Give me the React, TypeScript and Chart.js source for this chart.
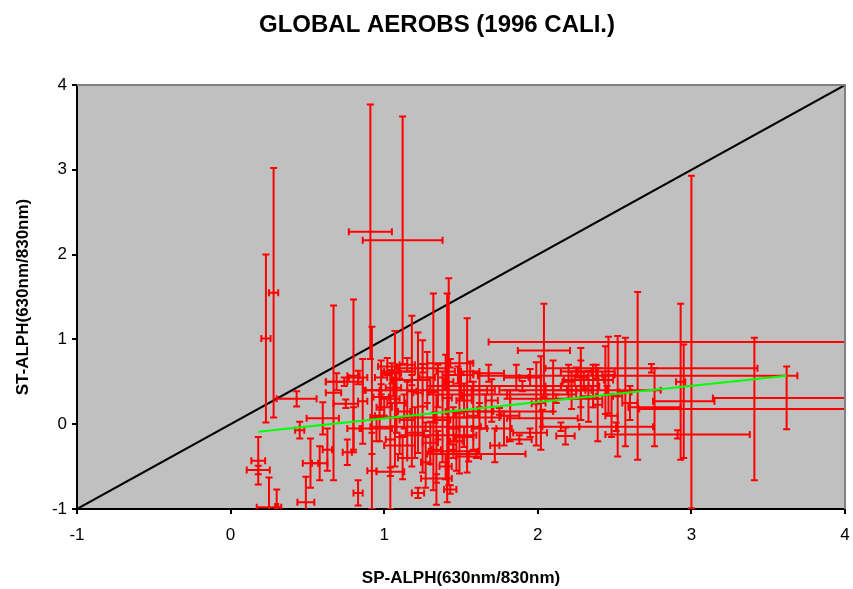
import { useEffect, useRef } from "react";
import { Chart, registerables } from "chart.js";

Chart.register(...registerables);

const TITLE = "GLOBAL AEROBS (1996 CALI.)";
const X_TITLE = "SP-ALPH(630nm/830nm)";
const Y_TITLE = "ST-ALPH(630nm/830nm)";
const AXIS_MIN = -1;
const AXIS_MAX = 4;

// SP-ALPH (x), ST-ALPH (y) and their error bars
const spAlph = [
  0.23, 0.28, 0.43, 0.45, 0.18, 0.18, 0.25, 0.30, 0.49, 0.52,
  0.58, 0.60, 0.63, 0.67, 0.69, 0.80, 0.76, 0.83, 0.75, 0.91,
  1.12, 0.92, 0.92, 0.86, 0.74, 0.83, 0.80, 1.04, 1.04, 1.18,
  1.22, 1.25, 1.32, 1.41, 1.42, 1.54, 1.49, 1.34, 1.43, 1.18,
  1.34, 1.43, 1.22, 1.00, 1.06, 1.10, 1.25, 1.33, 1.30, 1.27,
  1.35, 1.10, 1.45, 1.55, 1.47, 1.58, 1.62, 1.15, 1.08, 0.98,
  1.02, 1.28, 1.38, 1.20, 1.50, 1.40, 0.95, 0.97, 1.12, 1.27,
  1.40, 1.52, 1.07, 2.65, 3.00, 2.04, 2.02, 2.03, 1.99, 2.39,
  1.60, 1.95, 2.15, 2.28, 2.74, 2.57, 2.52, 2.76, 2.93, 2.95,
  2.91, 2.51, 3.41, 3.62, 2.22, 2.28, 2.36, 2.44, 2.46, 2.25,
  2.30, 1.80, 1.90, 1.75, 1.70, 1.78, 1.82, 1.86, 1.68, 2.10,
  2.12, 2.60, 2.48, 1.72, 1.88, 2.18, 1.05, 1.15, 1.48, 1.56,
  1.35, 1.52, 1.62, 1.13, 0.98, 1.30, 1.45, 2.05, 2.38, 2.20,
  2.33, 2.45, 1.95, 1.66,
];
const stAlph = [
  1.01, 1.55, 0.30, -0.07, -0.54, -0.43, -0.98, -0.97, -0.92, -0.46,
  -0.46, 0.07, -0.30, 0.37, 0.50, 0.57, -0.33, -0.81, 0.24, 2.27,
  2.17, 0.40, -0.55, 0.27, 0.50, 0.55, -0.05, -0.18, -0.56, 0.39,
  0.37, 0.21, 0.38, 0.31, 0.50, 0.34, 0.13, -0.30, 0.72, 0.52,
  -0.64, -0.77, -0.81, 0.20, 0.43, 0.62, 0.66, 0.08, 0.40, -0.03,
  -0.13, -0.25, -0.32, -0.38, -0.20, 0.10, -0.05, 0.05, 0.25, 0.55,
  0.68, 0.55, 0.05, -0.10, 0.45, 0.62, -0.05, 0.10, -0.40, -0.45,
  -0.50, -0.15, 0.30, 0.57, 0.97, 0.87, 0.25, 0.07, 0.24, 0.23,
  -0.35, -0.10, -0.03, 0.40, 0.66, 0.38, 0.33, 0.20, 0.50, 0.27,
  -0.12, -0.03, 0.18, 0.31, 0.40, 0.55, 0.45, 0.52, 0.58, 0.62,
  0.52, 0.35, 0.45, 0.15, 0.28, -0.05, 0.10, 0.55, 0.60, 0.45,
  0.30, 0.25, 0.10, -0.25, -0.18, -0.14, 0.60, 0.70, 0.58, 0.62,
  0.45, 0.28, 0.40, 0.15, 0.32, -0.22, -0.05, 0.40, 0.62, 0.50,
  0.33, 0.40, 0.55, 0.15,
];
const spErr = [
  0.03, 0.03, 0.13, 0.03, 0.075, 0.045, 0.08, 0.01, 0.055, 0.05,
  0.05, 0.105, 0.03, 0.05, 0.07, 0.04, 0.03, 0.03, 0.08, 0.14,
  0.26, 0.05, 0.03, 0.03, 0.12, 0.06, 0.04, 0.03, 0.09, 0.03,
  0.03, 0.03, 0.03, 0.03, 0.03, 0.03, 0.03, 0.03, 0.15, 0.12,
  0.10, 0.04, 0.04, 0.05, 0.05, 0.10, 0.16, 0.42, 0.42, 0.36,
  0.25, 0.10, 0.16, 0.08, 0.04, 0.04, 0.05, 0.05, 0.06, 0.04,
  0.06, 0.05, 0.05, 0.06, 0.08, 0.06, 0.10, 0.03, 0.03, 0.03,
  0.04, 0.06, 0.03, 1.04, 1.32, 0.17, 0.03, 0.23, 0.03, 0.03,
  0.32, 0.11, 0.12, 0.03, 0.69, 0.04, 0.03, 0.17, 0.03, 0.20,
  0.47, 0.24, 0.75, 0.48, 0.03, 0.04, 0.03, 0.05, 0.04, 0.10,
  0.13, 0.45, 0.50, 0.35, 0.04, 0.05, 0.06, 0.08, 0.10, 0.05,
  0.30, 0.05, 0.04, 0.03, 0.08, 0.06, 0.06, 0.05, 0.10, 0.06,
  0.05, 0.05, 0.05, 0.04, 0.05, 0.05, 0.04, 0.30, 0.12, 0.04,
  0.05, 0.35, 0.07, 0.05,
];
const stErr = [
  0.99, 1.47, 0.09, 0.10, 0.05, 0.28, 0.35, 0.20, 0.30, 0.29,
  0.20, 0.19, 0.25, 1.03, 0.10, 0.90, 0.15, 0.15, 0.05, 1.50,
  1.46, 0.75, 0.45, 0.50, 0.05, 0.08, 0.25, 0.82, 0.05, 0.89,
  0.71, 0.78, 1.16, 1.23, 1.22, 0.91, 0.71, 0.65, 0.05, 0.06,
  0.05, 0.05, 0.06, 0.10, 0.10, 0.08, 0.05, 0.06, 0.05, 0.05,
  0.05, 0.10, 0.08, 0.06, 0.35, 0.40, 0.30, 0.45, 0.35, 0.20,
  0.10, 0.30, 0.50, 0.30, 0.15, 0.20, 0.15, 0.30, 0.25, 0.30,
  0.15, 0.12, 0.80, 0.99, 1.96, 0.55, 0.55, 0.10, 0.49, 0.43,
  0.05, 0.05, 0.05, 0.35, 0.05, 0.64, 0.71, 0.46, 0.92, 0.67,
  0.05, 0.05, 0.84, 0.37, 0.22, 0.35, 0.25, 0.40, 0.45, 0.05,
  0.10, 0.05, 0.06, 0.04, 0.25, 0.20, 0.30, 0.15, 0.10, 0.30,
  0.05, 0.20, 0.25, 0.20, 0.05, 0.10, 0.12, 0.08, 0.10, 0.12,
  0.25, 0.20, 0.20, 0.20, 0.15, 0.25, 0.25, 0.05, 0.08, 0.20,
  0.30, 0.05, 0.10, 0.20,
];

// 1:1 reference line and fitted trend line end points
const diagX = [-1, 4];
const diagY = [-1, 4];
const fitX = [0.18, 3.62];
const fitY = [-0.09, 0.57];

const FONT = "'Liberation Sans', Arial, Helvetica, sans-serif";

const plotBackground = {
  id: "plotBackground",
  beforeDraw(chart: any) {
    const { ctx, chartArea: a } = chart;
    ctx.save();
    ctx.fillStyle = "#C0C0C0";
    ctx.fillRect(a.left, a.top, a.right - a.left, a.bottom - a.top);
    ctx.restore();
  },
  afterDraw(chart: any) {
    const { ctx, chartArea: a } = chart;
    ctx.save();
    ctx.strokeStyle = "#808080";
    ctx.lineWidth = 2;
    ctx.beginPath();
    ctx.moveTo(a.left, a.top);
    ctx.lineTo(a.right, a.top);
    ctx.lineTo(a.right, a.bottom);
    ctx.stroke();
    ctx.fillStyle = "#000";
    ctx.font = `bold 24px ${FONT}`;
    ctx.textAlign = "center";
    ctx.textBaseline = "middle";
    ctx.fillText(TITLE, 437, 25);
    ctx.restore();
  },
};

const errorBars = {
  id: "errorBars",
  afterDatasetDraw(chart: any, args: any) {
    if (args.index !== 1) return;
    const { ctx, chartArea: a, scales } = chart;
    const xs = scales.x;
    const ys = scales.y;
    const data = chart.data.datasets[1].data as any[];
    const cap = 3.5;
    ctx.save();
    ctx.beginPath();
    ctx.rect(a.left, a.top, a.right - a.left, a.bottom - a.top);
    ctx.clip();
    ctx.strokeStyle = "#FF0000";
    ctx.lineWidth = 2;
    ctx.lineCap = "butt";
    for (const d of data) {
      const px = xs.getPixelForValue(d.x);
      const py = ys.getPixelForValue(d.y);
      const x0 = xs.getPixelForValue(d.x - d.ex);
      const x1 = xs.getPixelForValue(d.x + d.ex);
      const y0 = ys.getPixelForValue(d.y - d.ey);
      const y1 = ys.getPixelForValue(d.y + d.ey);
      ctx.beginPath();
      ctx.moveTo(x0, py);
      ctx.lineTo(x1, py);
      ctx.moveTo(x0, py - cap);
      ctx.lineTo(x0, py + cap);
      ctx.moveTo(x1, py - cap);
      ctx.lineTo(x1, py + cap);
      ctx.moveTo(px, y0);
      ctx.lineTo(px, y1);
      ctx.moveTo(px - cap, y0);
      ctx.lineTo(px + cap, y0);
      ctx.moveTo(px - cap, y1);
      ctx.lineTo(px + cap, y1);
      ctx.stroke();
    }
    ctx.restore();
  },
};

export default function App() {
  const ref = useRef<HTMLCanvasElement | null>(null);

  useEffect(() => {
    if (!ref.current) return;
    const points = spAlph.map((x, i) => ({ x, y: stAlph[i], ex: spErr[i], ey: stErr[i] }));
    const tickFont = { family: FONT, size: 17 };
    const titleFont = { family: FONT, size: 17, weight: "bold" as const };
    const chart = new Chart(ref.current, {
      type: "scatter",
      data: {
        datasets: [
          {
            type: "line",
            data: fitX.map((x, i) => ({ x, y: fitY[i] })),
            borderColor: "#00FF00",
            borderWidth: 2,
            pointRadius: 0,
            fill: false,
            order: 1,
          },
          {
            data: points,
            backgroundColor: "#FF0000",
            borderWidth: 0,
            pointStyle: "rect",
            pointRadius: 1.5,
            order: 2,
          },
          {
            type: "line",
            data: diagX.map((x, i) => ({ x, y: diagY[i] })),
            borderColor: "#000000",
            borderWidth: 2,
            pointRadius: 0,
            fill: false,
            order: 3,
          },
        ] as any,
      },
      options: {
        animation: false,
        responsive: false,
        devicePixelRatio: 1,
        layout: { padding: { top: 85, right: 8, left: 0, bottom: 0 } },
        plugins: {
          legend: { display: false },
          tooltip: { enabled: false },
          title: { display: false },
        },
        scales: {
          x: {
            type: "linear",
            min: AXIS_MIN,
            max: AXIS_MAX,
            afterFit: (s: any) => {
              s.height = 80;
              s.paddingLeft = 0;
              s.paddingRight = 0;
            },
            ticks: { stepSize: 1, color: "#000", font: tickFont, padding: 11 },
            grid: { drawOnChartArea: false, drawTicks: true, tickLength: 5, color: "#000", lineWidth: 2 },
            border: { display: true, color: "#000", width: 2 },
            title: { display: true, text: X_TITLE, color: "#000", font: titleFont, padding: { top: 2, bottom: 0 } },
          },
          y: {
            type: "linear",
            min: AXIS_MIN,
            max: AXIS_MAX,
            afterFit: (s: any) => {
              s.width = 77;
              s.paddingTop = 0;
              s.paddingBottom = 0;
            },
            ticks: { stepSize: 1, color: "#000", font: tickFont, padding: 5 },
            grid: { drawOnChartArea: false, drawTicks: true, tickLength: 5, color: "#000", lineWidth: 2 },
            border: { display: true, color: "#000", width: 2 },
            title: { display: true, text: Y_TITLE, color: "#000", font: titleFont, padding: { top: 13, bottom: 0 } },
          },
        },
      } as any,
      plugins: [plotBackground, errorBars],
    });
    return () => chart.destroy();
  }, []);

  return (
    <div style={{ position: "absolute", left: 0, top: 0, width: 853, height: 589, background: "#fff" }}>
      <canvas ref={ref} width={853} height={589} style={{ width: 853, height: 589, display: "block" }} />
    </div>
  );
}
